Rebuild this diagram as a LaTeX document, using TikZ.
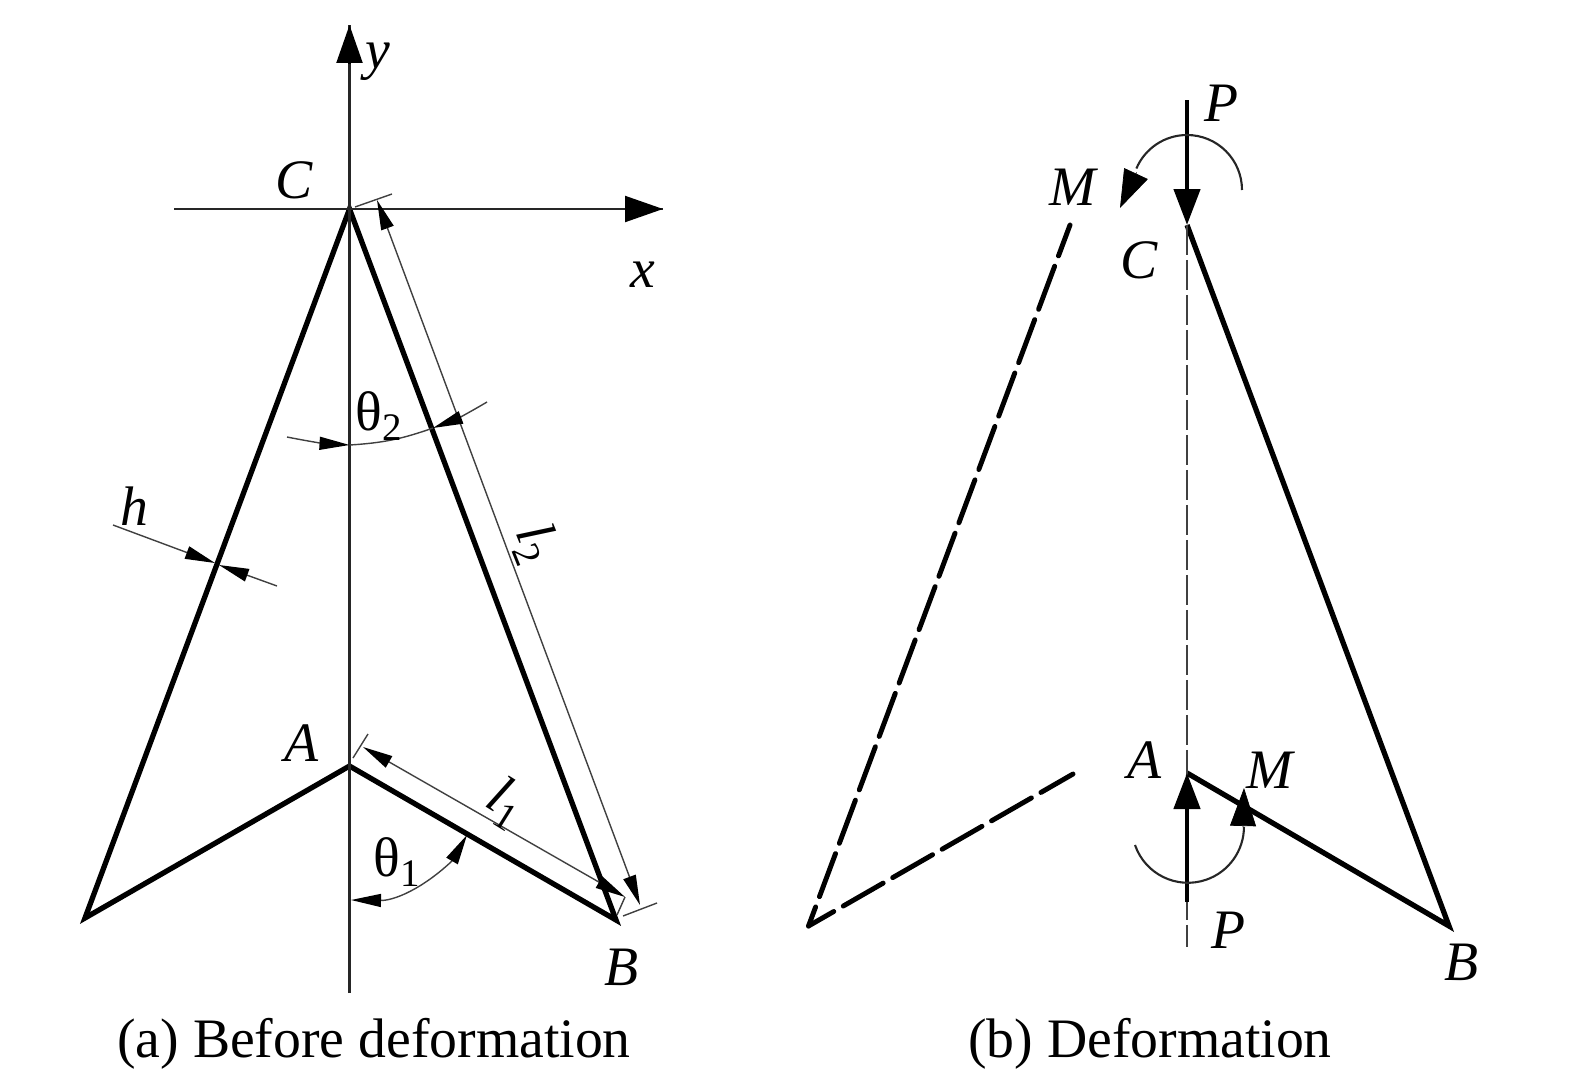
\documentclass[tikz,border=0pt]{standalone}
\usepackage{fontspec}
\setmainfont{Liberation Serif}
\usetikzlibrary{arrows,arrows.meta}

\begin{document}
\begin{tikzpicture}[x=0.02cm,y=-0.02cm,>=stealth',
                    bar/.style={line width=3pt,line join=miter},
                    thinline/.style={line width=1.2pt,black!85},
                    hairline/.style={line width=0.8pt,black!75},
                    dimhead/.style={hairline,{Triangle[length=0.6cm,width=0.26cm,black]}-},
                    axishead/.style={line width=1.2pt,-{Triangle[length=0.76cm,width=0.52cm]}},
                    bighead/.style={line width=2.6pt,-{Triangle[length=0.72cm,width=0.52cm]}},
                    momhead/.style={line width=0.4pt,-{Triangle[length=0.76cm,width=0.52cm]}},
                    dashbar/.style={line width=2.8pt,line cap=round,dash pattern=on 0.92cm off 0.22cm},
                    lab/.style={font=\fontsize{31.7}{36}\selectfont},
                    every node/.style={inner sep=0pt}]

  \useasboundingbox (0,0) rectangle (1575,1075);

  % (a) before deformation
  \coordinate (Ca) at (349.5,209);
  \coordinate (Aa) at (349.5,766);
  \coordinate (Ba) at (616,920);
  \coordinate (Da) at (85,918);

  \coordinate (ybot) at (349.5,993);
  \coordinate (ytop) at (349.5,25);
  \coordinate (xbeg) at (174,209);
  \coordinate (xend) at (663,209);

  \draw[bar] (Da) -- (Ca) -- (Ba) -- (Aa) -- cycle;
  \path (ybot) edge[thinline] (ytop)
        (xbeg) edge[thinline] (xend);
  \draw[axishead] (349.5,64) -- (ytop);
  \draw[axishead] (625,209) -- (xend);

  % dimension lines
  \coordinate (ltwoa) at (377,200);
  \coordinate (ltwob) at (640,905);
  \coordinate (ltwoc) at (355,207);
  \coordinate (ltwod) at (392,194);
  \coordinate (ltwoe) at (623,916);
  \coordinate (ltwof) at (657,903);
  \coordinate (ltwom) at (510,557);
  \path (ltwoa) edge[dimhead] (ltwom)
        (ltwob) edge[dimhead] (ltwom)
        (ltwoc) edge[hairline] (ltwod)
        (ltwoe) edge[hairline] (ltwof);

  \coordinate (lonea) at (363,747);
  \coordinate (loneb) at (625,897);
  \coordinate (lonec) at (353,758);
  \coordinate (loned) at (368,734);
  \coordinate (lonem) at (494,822);
  \coordinate (lonee) at (617,915);
  \path (lonea) edge[dimhead] (lonem)
        (loneb) edge[dimhead] (lonem)
        (lonec) edge[hairline] (loned)
        (loneb) edge[hairline] (lonee);

  \coordinate (hbeg) at (113,525);
  \coordinate (hend) at (277,586);
  \coordinate (hin) at (215,563);
  \coordinate (hout) at (219,565);
  \path (hin) edge[dimhead] (hbeg)
        (hout) edge[dimhead] (hend);

  % angles
  \coordinate (tha) at (349.5,445);
  \coordinate (thb) at (433,428);
  \coordinate (thc) at (287,437);
  \coordinate (thd) at (487,402);
  \draw[dimhead] (tha) to[bend left=4] (thc);
  \draw[hairline] (tha) to[bend right=8] (thb);
  \draw[dimhead] (thb) to[bend right=5] (thd);
  \coordinate (tca) at (351,900);
  \coordinate (tcb) at (467,835);
  \coordinate (tcm) at (452,861);
  \draw[dimhead] (tca) to[bend right=22] (tcm);
  \draw[dimhead] (tcb) -- (tcm);

  \node[lab] (labCa) at (294,180) {\textit{C}};
  \node[lab] (laby) at (378,62) {\textit{y}};
  \node[lab] (labx) at (643,275) {\textit{x}};
  \node[lab] (labh) at (134,506) {\textit{h}};
  \node[lab] (labth2) at (379,416) {θ\textsubscript{2}};
  \node[lab,rotate=-68] (labl2) at (535,544) {\textit{l}\textsubscript{2}};
  \node[lab] (labAa) at (302,743) {\textit{A}};
  \node[lab,rotate=-32] (labl1) at (506,803) {\textit{l}\textsubscript{1}};
  \node[lab] (labth1) at (397,862) {θ\textsubscript{1}};
  \node[lab] (labBa) at (622,967) {\textit{B}};
  \node[lab] (capa) at (374,1044) {(a) Before deformation};

  % (b) deformation
  \coordinate (Cb) at (1187,225);
  \coordinate (Ab) at (1187,773);
  \coordinate (Bb) at (1449,926);
  \coordinate (Db) at (808.5,926);
  \coordinate (Ml) at (1070,225);
  \coordinate (Mk) at (1073,774);
  \coordinate (dashend) at (1187,947);
  \coordinate (Ptop) at (1187,100);
  \coordinate (Pbot) at (1187,902);

  \draw[bar] (Cb) -- (Bb) -- (Ab);
  \draw[dashbar,dash phase=0.26cm] (Ml) -- (Db);
  \draw[dashbar,dash phase=0.18cm] (Mk) -- (Db);
  \path (Cb) edge[hairline,dash pattern=on 0.6cm off 0.1cm] (dashend);
  \path (Ptop) edge[bighead] (Cb)
        (Pbot) edge[bighead] (Ab);

  % moments
  \coordinate (mta) at (1136.5,172.5);
  \coordinate (mtb) at (1120,208);
  \draw[thinline] (1242,190) arc[start angle=0,end angle=-157,radius=55];
  \path (mta) edge[momhead] (mtb);
  \coordinate (mba) at (1243,827);
  \coordinate (mbb) at (1244,788);
  \draw[thinline] (1135,845) arc[start angle=161,end angle=0,radius=56];
  \path (mba) edge[momhead] (mbb);

  \node[lab] (labPt) at (1221,103) {\textit{P}};
  \node[lab] (labMt) at (1074,187) {\textit{M}};
  \node[lab] (labCb) at (1139,260) {\textit{C}};
  \node[lab] (labAb) at (1145,760) {\textit{A}};
  \node[lab] (labMb) at (1271,770) {\textit{M}};
  \node[lab] (labPb) at (1228,930) {\textit{P}};
  \node[lab] (labBb) at (1461,962) {\textit{B}};
  \node[lab] (capb) at (1150,1044) {(b) Deformation};
\end{tikzpicture}
\end{document}
